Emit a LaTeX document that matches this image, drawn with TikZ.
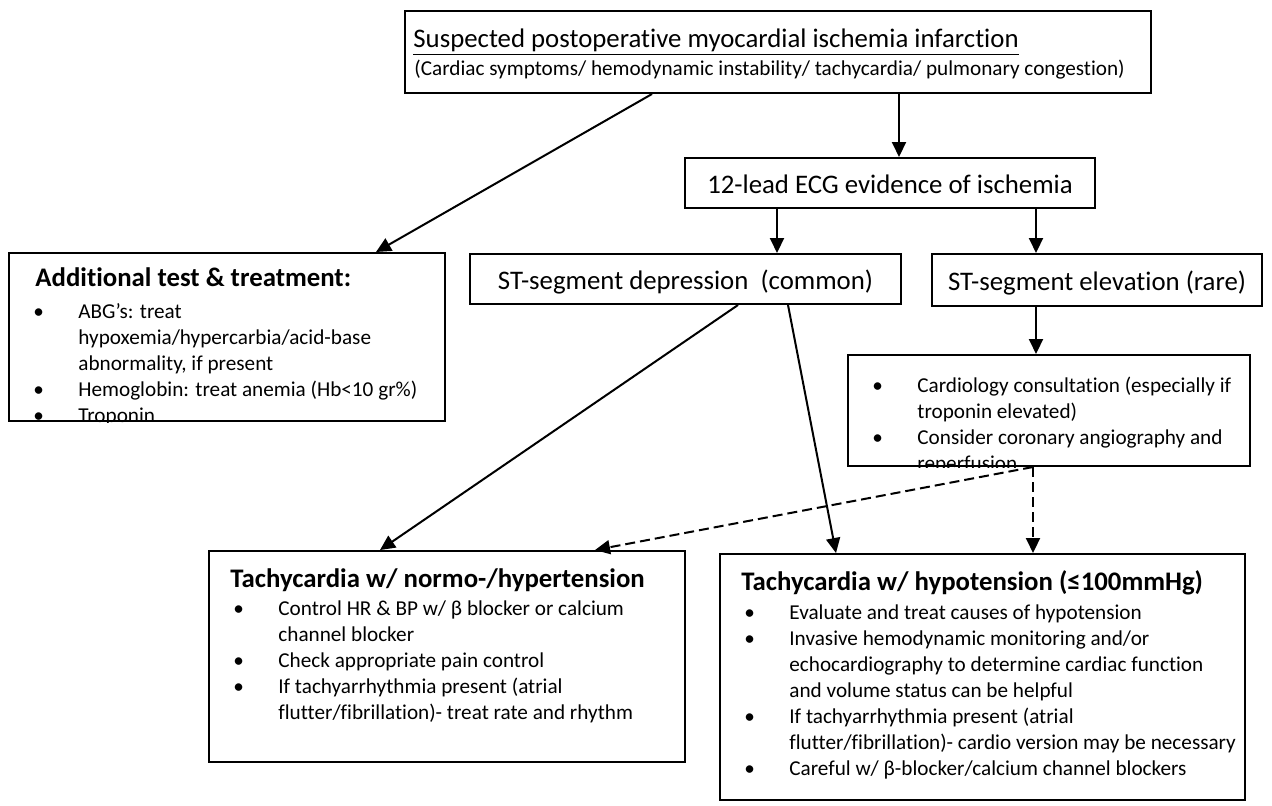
\documentclass[tikz,border=0pt]{standalone}
\usepackage{fontspec}
\setmainfont{Carlito}[Ligatures=NoCommon]
\usetikzlibrary{positioning, calc, arrows.meta, fit}

\newcommand{\bodysize}{\fontsize{10.6pt}{13pt}\selectfont}
\newcommand{\headsize}{\fontsize{13.4pt}{16.4pt}\selectfont}
\newcommand{\bul}{\makebox[22.5pt][l]{•}}
\newcommand{\cont}{\hspace*{22.5pt}}

\begin{document}
\begin{tikzpicture}[
        x=0.5pt, y=-0.5pt,
        box/.style={draw, line width=1pt, inner sep=0pt},
        txt/.style={inner sep=0pt, anchor=north west, align=left, font=\bodysize},
        head/.style={inner sep=0pt, anchor=base west, font=\headsize\bfseries},
        label/.style={inner sep=0pt, anchor=base, font=\headsize},
        arr/.style={line width=1pt, -{Triangle[length=7.5pt, width=7pt]}},
        dasharr/.style={arr, dash pattern=on 5pt off 2.5pt}
    ]
        \useasboundingbox (0,0) rectangle (1272,805);

        % Top box
        \node[box, fit={(405,11) (1151,93)}] (top) {};
        \node[inner sep=0pt, anchor=base west, font=\headsize] (toptitle) at (413,47)
            {\underline{Suspected postoperative myocardial ischemia infarction}};
        \node[inner sep=0pt, anchor=base west, font=\bodysize] (topsub) at (414,75)
            {(Cardiac symptoms/ hemodynamic instability/ tachycardia/ pulmonary congestion)};

        % ECG and ST boxes
        \node[box, fit={(685,158) (1095,208)}] (ecg) {};
        \node[label] (ecgtext) at ($(ecg.center)+(0,10)$) {12-lead ECG evidence of ischemia};
        \node[box, fit={(470,254) (901,304)}] (dep) {};
        \node[label] (deptext) at ($(dep.center)+(0,10)$) {ST-segment depression~ (common)};
        \node[box, fit={(932,254) (1262,306)}] (elev) {};
        \node[label] (elevtext) at ($(elev.center)+(0,10)$) {ST-segment elevation (rare)};

        % Additional test box
        \node[box, fit={(9,253) (445,421)}] (add) {};
        \node[head] (addtitle) at (35,286) {Additional test \& treatment:};
        \begin{scope}
            \clip (add.north west) rectangle (add.south east);
            \node[txt] (addlist) at (33,303) {\bul ABG’s: treat\\
                \cont hypoxemia/hypercarbia/acid-base\\
                \cont abnormality, if present\\
                \bul Hemoglobin: treat anemia (Hb<10 gr\%)\\
                \bul Troponin};
        \end{scope}

        % Cardiology box
        \node[box, fit={(848,355) (1250,466)}] (cardio) {};
        \begin{scope}
            \clip (cardio.north west) rectangle (cardio.south east);
            \node[txt] (cardiolist) at (872,377) {\bul Cardiology consultation (especially if\\
                \cont troponin elevated)\\
                \bul Consider coronary angiography and\\
                \cont reperfusion};
        \end{scope}

        % Normo-/hypertension box
        \node[box, fit={(209,551) (685,762)}] (normo) {};
        \node[head] (normotitle) at (230,587) {Tachycardia w/ normo-/hypertension};
        \node[txt] (normolist) at (233,600) {\bul Control HR \& BP w/ β blocker or calcium\\
            \cont channel blocker\\
            \bul Check appropriate pain control\\
            \bul If tachyarrhythmia present (atrial\\
            \cont flutter/fibrillation)- treat rate and rhythm};

        % Hypotension box
        \node[box, fit={(720,554) (1245,800)}] (hypo) {};
        \node[head] (hypotitle) at (741,590) {Tachycardia w/ hypotension (≤100mmHg)};
        \node[txt] (hypolist) at (744,604) {\bul Evaluate and treat causes of hypotension\\
            \bul Invasive hemodynamic monitoring and/or\\
            \cont echocardiography to determine cardiac function\\
            \cont and volume status can be helpful\\
            \bul If tachyarrhythmia present (atrial\\
            \cont flutter/fibrillation)- cardio version may be necessary\\
            \bul Careful w/ β-blocker/calcium channel blockers};

        % Arrows
        \coordinate (a1) at ($(top.south west)+(248,0)$);
        \draw[arr] (a1) -- ($(add.north west)+(368,0)$);
        \coordinate (a2) at ($(ecg.north west)+(215,0)$);
        \draw[arr] (a2 |- top.south) -- (a2);
        \coordinate (a3) at ($(dep.north west)+(308,0)$);
        \draw[arr] (a3 |- ecg.south) -- (a3);
        \coordinate (a4) at ($(elev.north west)+(105,0)$);
        \draw[arr] (a4 |- ecg.south) -- (a4);
        \draw[arr] (elev.south -| a4) -- (cardio.north -| a4);
        \draw[arr] ($(dep.south west)+(269,0)$) -- ($(normo.north west)+(172,0)$);
        \draw[arr] ($(dep.south west)+(319,0)$) -- ($(hypo.north west)+(117,0)$);

        % Dashed arrows
        \coordinate (a5) at ($(cardio.south west)+(186,0)$);
        \draw[dasharr] (a5) -- ($(normo.north west)+(387,0)$);
        \draw[dasharr] (a5) -- (a5 |- hypo.north);

\end{tikzpicture}
\end{document}
